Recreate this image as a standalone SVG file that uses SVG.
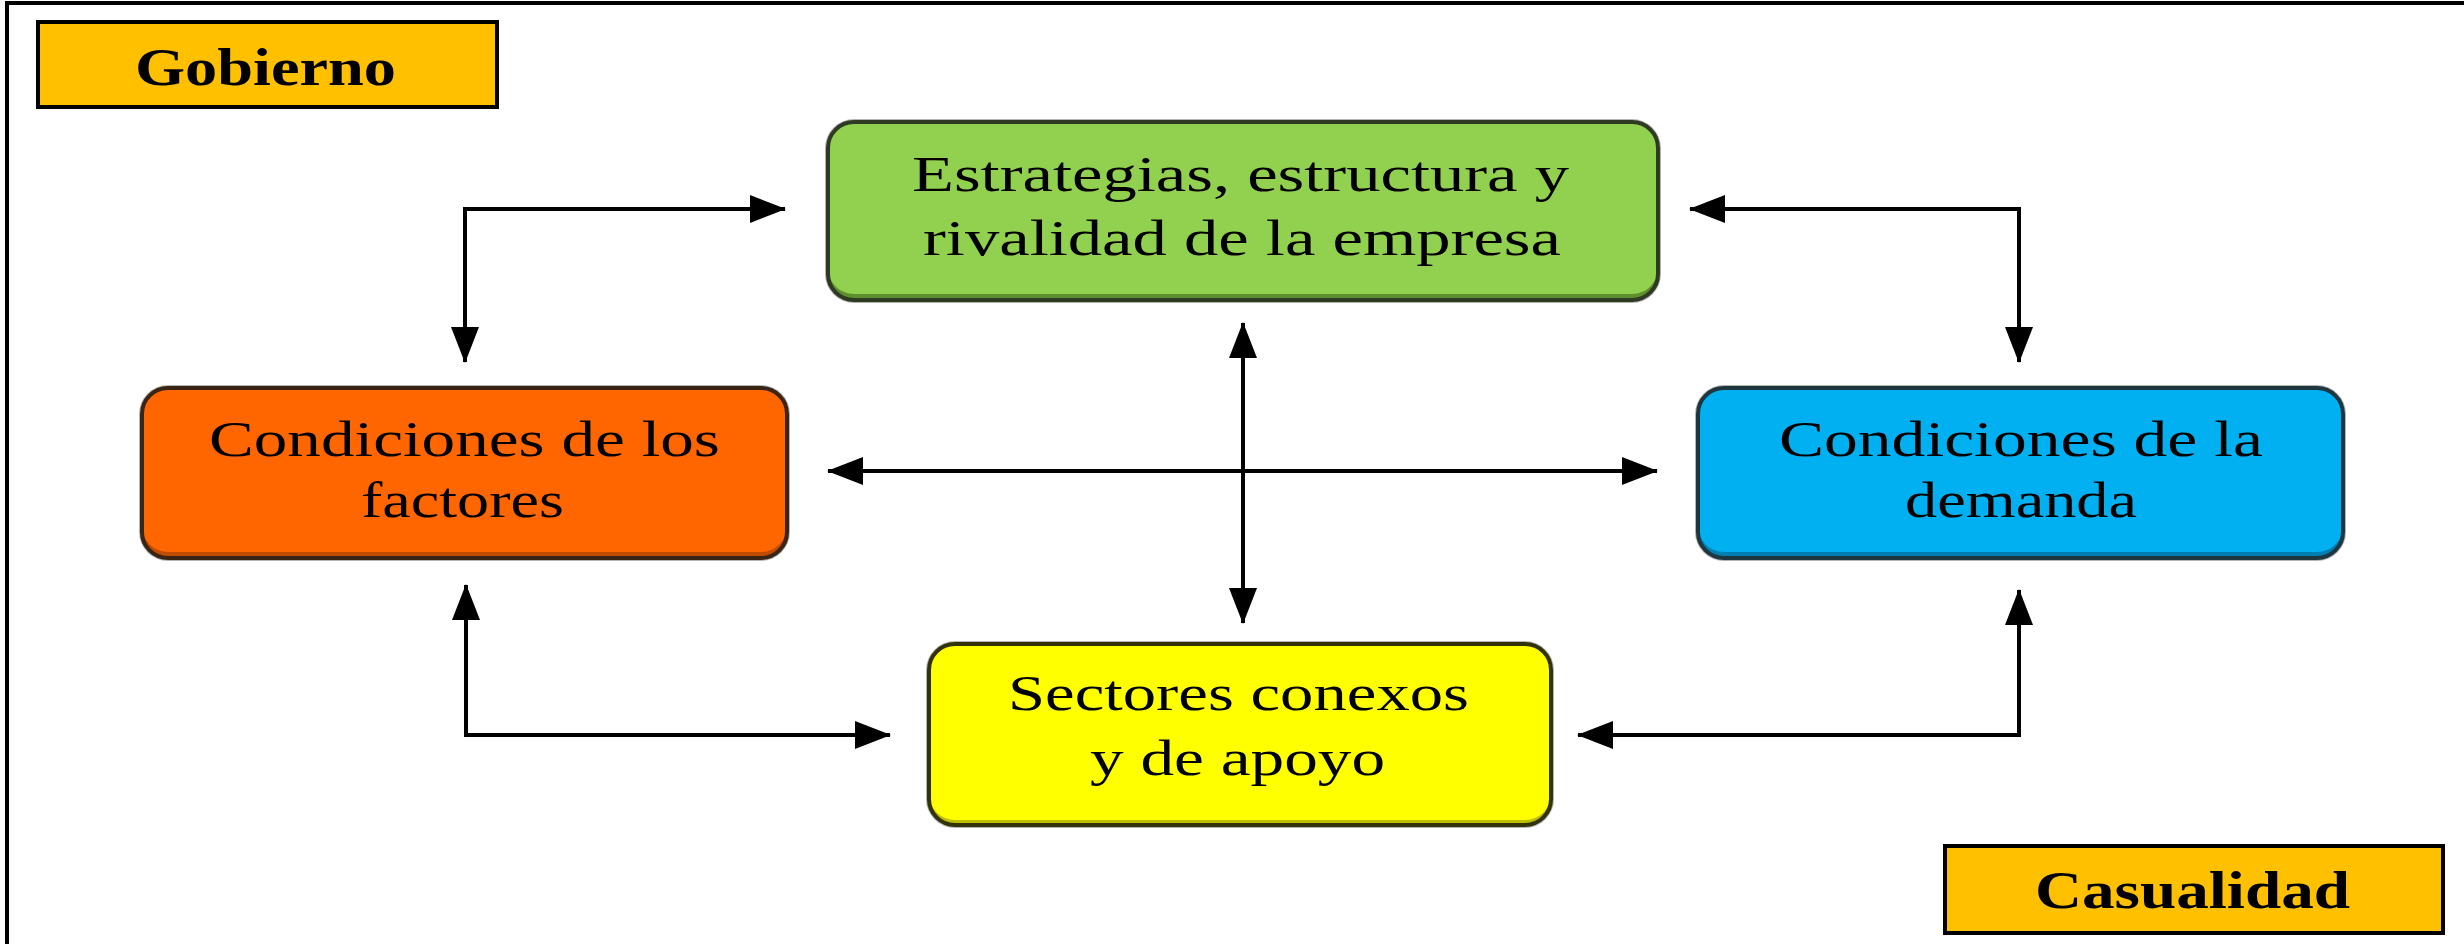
<svg xmlns="http://www.w3.org/2000/svg" width="2464" height="944" viewBox="0 0 2464 944">
  <style>
    .frame { stroke: #000; stroke-width: 4; fill: none; }
    .label-box { fill: #FFC000; stroke: #000; stroke-width: 4; }
    .label-text { font-family: "Liberation Serif", "Times New Roman", serif; font-weight: bold; font-size: 52px; fill: #000; }
    .halo { fill: #b4b4b4; }
    .outline { fill: none; stroke-width: 4; }
    .node-text { font-family: "Liberation Serif", "Times New Roman", serif; font-size: 50px; fill: #000; text-anchor: start; }
    .conn { fill: none; stroke: #000; stroke-width: 4; marker-start: url(#arrow); marker-end: url(#arrow); }
  </style>
  <defs>
    <marker id="arrow" markerUnits="userSpaceOnUse" markerWidth="36" markerHeight="30" viewBox="0 0 36 30" refX="35" refY="15" orient="auto-start-reverse">
      <path d="M0,1 L36,15 L0,29 Z" fill="#000"/>
    </marker>
  </defs>

  <rect x="0" y="0" width="2464" height="944" fill="#fff"/>

  <!-- frame (top and left edges) -->
  <g id="frame">
    <line class="frame" x1="5" y1="3" x2="2464" y2="3"/>
    <line class="frame" x1="7" y1="3" x2="7" y2="944"/>
  </g>

  <!-- Gobierno -->
  <g id="gobierno">
    <rect class="label-box" x="38" y="22" width="459" height="85"/>
    <text class="label-text" x="135" y="85" textLength="261" lengthAdjust="spacingAndGlyphs">Gobierno</text>
  </g>

  <!-- Casualidad -->
  <g id="casualidad">
    <rect class="label-box" x="1945" y="846" width="498" height="87"/>
    <text class="label-text" x="2035" y="908" textLength="315" lengthAdjust="spacingAndGlyphs">Casualidad</text>
  </g>

  <!-- Connectors -->
  <g id="connectors">
    <path class="conn" d="M465,362 V209 H785"/>
    <path class="conn" d="M1690,209 H2019 V362"/>
    <path class="conn" d="M1243,323 V623"/>
    <path class="conn" d="M828,471 H1657"/>
    <path class="conn" d="M466,585 V735 H890"/>
    <path class="conn" d="M1578,735 H2019 V590"/>
  </g>

  <!-- Estrategias (green) -->
  <g id="node-estrategias">
    <rect class="halo" x="825" y="119" width="836" height="184" rx="29"/>
    <rect x="828" y="122" width="830" height="178" rx="26" fill="#5E8F2E"/>
    <rect x="828" y="122" width="830" height="172" rx="26" fill="#92D050"/>
    <rect class="outline" x="828" y="122" width="830" height="178" rx="26" stroke="#2E3A22"/>
    <text class="node-text" x="912" y="191" textLength="657" lengthAdjust="spacingAndGlyphs">Estrategias,  estructura  y</text>
    <text class="node-text" x="923" y="255" textLength="638" lengthAdjust="spacingAndGlyphs">rivalidad  de la  empresa</text>
  </g>

  <!-- Condiciones de los factores (orange) -->
  <g id="node-factores">
    <rect class="halo" x="139" y="385" width="651" height="176" rx="29"/>
    <rect x="142" y="388" width="645" height="170" rx="26" fill="#C04C00"/>
    <rect x="142" y="388" width="645" height="164" rx="26" fill="#FF6600"/>
    <rect class="outline" x="142" y="388" width="645" height="170" rx="26" stroke="#3A2414"/>
    <text class="node-text" x="209" y="456" textLength="511" lengthAdjust="spacingAndGlyphs">Condiciones  de los</text>
    <text class="node-text" x="361" y="517" textLength="203" lengthAdjust="spacingAndGlyphs">factores</text>
  </g>

  <!-- Condiciones de la demanda (blue) -->
  <g id="node-demanda">
    <rect class="halo" x="1695" y="385" width="651" height="176" rx="29"/>
    <rect x="1698" y="388" width="645" height="170" rx="26" fill="#0080B0"/>
    <rect x="1698" y="388" width="645" height="164" rx="26" fill="#00B0F0"/>
    <rect class="outline" x="1698" y="388" width="645" height="170" rx="26" stroke="#1E3640"/>
    <text class="node-text" x="1779" y="456" textLength="484" lengthAdjust="spacingAndGlyphs">Condiciones  de la</text>
    <text class="node-text" x="1905" y="517" textLength="232" lengthAdjust="spacingAndGlyphs">demanda</text>
  </g>

  <!-- Sectores conexos y de apoyo (yellow) -->
  <g id="node-sectores">
    <rect class="halo" x="926" y="641" width="628" height="187" rx="29"/>
    <rect x="929" y="644" width="622" height="181" rx="26" fill="#BFBF00"/>
    <rect x="929" y="644" width="622" height="176" rx="26" fill="#FFFF00"/>
    <rect class="outline" x="929" y="644" width="622" height="181" rx="26" stroke="#33330A"/>
    <text class="node-text" x="1008" y="710" textLength="461" lengthAdjust="spacingAndGlyphs">Sectores conexos</text>
    <text class="node-text" x="1090" y="775" textLength="295" lengthAdjust="spacingAndGlyphs">y de apoyo</text>
  </g>
</svg>
